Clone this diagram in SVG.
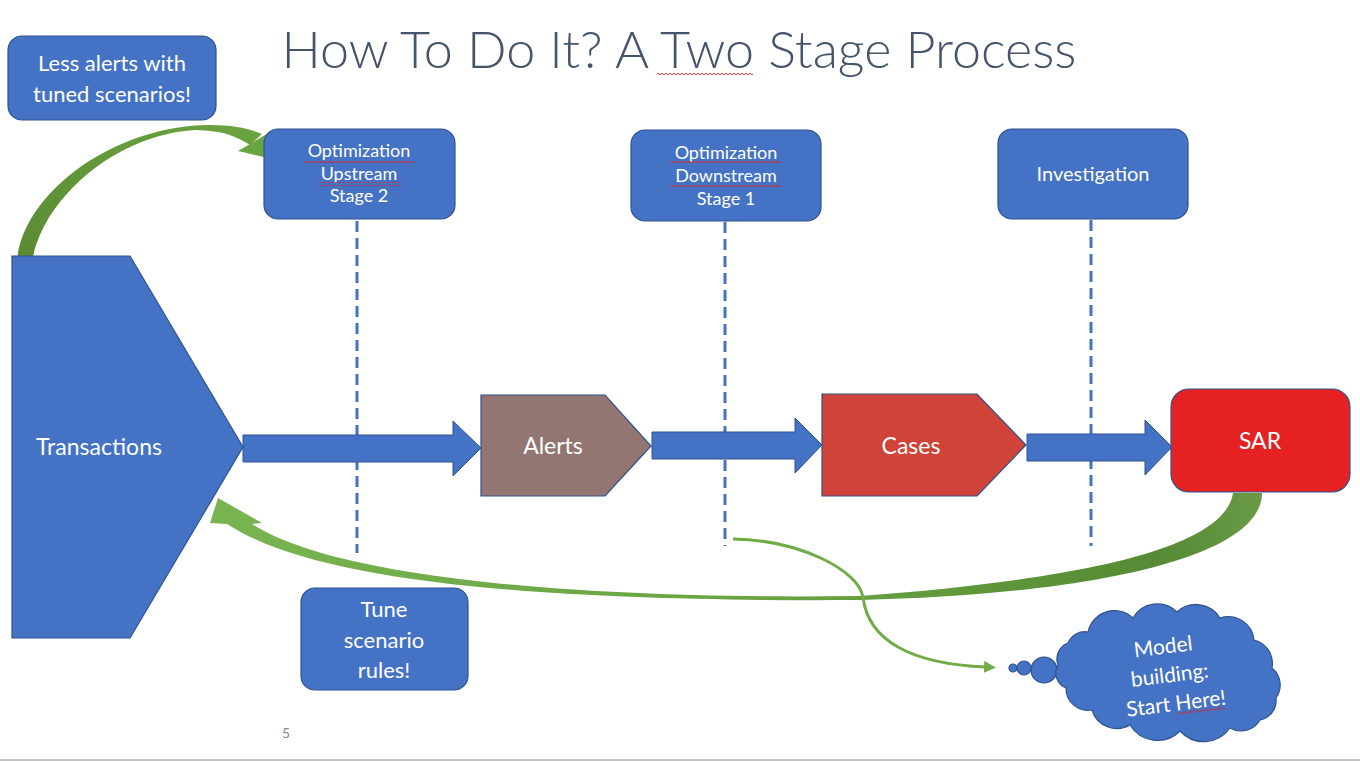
<svg xmlns="http://www.w3.org/2000/svg" width="1360" height="762" viewBox="0 0 1360 762">
<defs>
<style>
.box{fill:#4472C4;stroke:#2F528F;stroke-width:1.2}
.arr{fill:#4472C4;stroke:#2F528F;stroke-width:1}
.t{font-family:Lato,"Liberation Sans",sans-serif;fill:#FFFFFF;text-anchor:middle}
.dash{stroke:#4472C4;stroke-width:3;stroke-dasharray:11 6;fill:none}
</style>
<pattern id="sq" width="4" height="4" patternUnits="userSpaceOnUse">
<path d="M0,3 L2,1 L4,3" stroke="#E02020" stroke-width="0.9" fill="none"/>
</pattern>
<linearGradient id="gTop" x1="0" y1="1" x2="1" y2="0">
<stop offset="0" stop-color="#5A8A34"/>
<stop offset="1" stop-color="#6AA43F"/>
</linearGradient>
<linearGradient id="gBig" gradientUnits="userSpaceOnUse" x1="210" y1="0" x2="1262" y2="0">
<stop offset="0" stop-color="#78B450"/>
<stop offset="0.6" stop-color="#66A040"/>
<stop offset="0.9" stop-color="#568A34"/>
<stop offset="1" stop-color="#6A9A48"/>
</linearGradient>
<marker id="gh" markerWidth="12" markerHeight="12" refX="2" refY="6" orient="auto" markerUnits="userSpaceOnUse">
<path d="M0,0 L12,6 L0,12 Z" fill="#70AD47"/>
</marker>
</defs>
<rect width="1360" height="762" fill="#FFFFFF"/>

<g id="title">
<text x="679" y="68" font-family="Lato,'Liberation Sans',sans-serif" font-weight="300" font-size="52" fill="#44546A" text-anchor="middle" textLength="795" lengthAdjust="spacingAndGlyphs">How To Do It? A Two Stage Process</text>
<rect x="657" y="71" width="96" height="4" fill="url(#sq)"/>
</g>

<g id="connectors">
<line class="dash" x1="357" y1="221" x2="357" y2="553"/>
<line class="dash" x1="725" y1="222" x2="725" y2="546"/>
<line class="dash" x1="1091" y1="220" x2="1091" y2="546"/>
<polygon class="arr" points="243,435 453,435 453,421 481,448 453,476 453,462 243,462"/>
<polygon class="arr" points="652,432 795,432 795,418 822,445 795,473 795,459 652,459"/>
<polygon class="arr" points="1027,434 1145,434 1145,420 1172,447 1145,475 1145,461 1027,461"/>
<path d="M17,263 C20,200 100,135 190,126 C225,123 248,128 262,134 L250,145 C235,136 225,131 195,130 C115,135 45,198 33,257 Z" fill="url(#gTop)"/>
<polygon points="238,151 272,131 268,158" fill="#6AA43F"/>
<path d="M1233,493 C1225,545 1100,578 860,596 C560,600 330,575 252,524 L262,523 L218,498 L210,523 L227,524 C320,585 560,602 860,600 C1080,595 1262,560 1262,493 Z" fill="url(#gBig)"/>
<path d="M733,539 C800,540 858,570 863,597 C868,640 910,664 986,667" fill="none" stroke="#70AD47" stroke-width="3" marker-end="url(#gh)"/>
</g>

<g id="note-less-alerts">
<rect class="box" x="8" y="36" width="208" height="84" rx="14"/>
<text class="t" x="112" y="71" font-size="22">Less alerts with</text>
<text class="t" x="112" y="102" font-size="22">tuned scenarios!</text>
</g>

<g id="opt-upstream">
<rect class="box" x="264" y="129" width="191" height="90" rx="14"/>
<text class="t" x="359" y="157" font-size="18">Optimization</text>
<text class="t" x="359" y="180" font-size="18">Upstream</text>
<text class="t" x="359" y="202" font-size="18">Stage 2</text>
<rect x="304" y="159" width="110" height="4" fill="url(#sq)"/>
<rect x="318" y="182" width="84" height="4" fill="url(#sq)"/>
</g>

<g id="opt-downstream">
<rect class="box" x="631" y="130" width="190" height="91" rx="14"/>
<text class="t" x="726" y="159" font-size="18">Optimization</text>
<text class="t" x="726" y="182" font-size="18">Downstream</text>
<text class="t" x="726" y="205" font-size="18">Stage 1</text>
<rect x="670" y="161" width="111" height="4" fill="url(#sq)"/>
<rect x="670" y="184" width="111" height="4" fill="url(#sq)"/>
</g>

<g id="investigation">
<rect class="box" x="998" y="129" width="190" height="90" rx="14"/>
<text class="t" x="1093" y="181" font-size="20">Investigation</text>
</g>

<g id="transactions">
<polygon class="box" points="12,256 130,256 243,447 130,638 12,638"/>
<text class="t" x="99" y="455" font-size="23">Transactions</text>
</g>

<g id="alerts">
<polygon points="481,395 605,395 651,446 605,496 481,496" fill="#937672" stroke="#2F528F" stroke-width="1.2"/>
<text class="t" x="553" y="454" font-size="23">Alerts</text>
</g>

<g id="cases">
<polygon points="822,394 977,394 1026,445 977,496 822,496" fill="#CF4338" stroke="#2F528F" stroke-width="1.2"/>
<text class="t" x="911" y="454" font-size="23">Cases</text>
</g>

<g id="sar">
<rect x="1171" y="389" width="179" height="103" rx="18" fill="#E52121" stroke="#2F528F" stroke-width="1.2"/>
<text class="t" x="1260" y="449" font-size="23">SAR</text>
</g>

<g id="tune">
<rect class="box" x="301" y="588" width="167" height="102" rx="14"/>
<text class="t" x="384" y="617" font-size="22">Tune</text>
<text class="t" x="384" y="648" font-size="22">scenario</text>
<text class="t" x="384" y="678" font-size="22">rules!</text>
</g>

<g id="cloud">
<circle cx="1013" cy="668" r="4" class="box"/>
<circle cx="1024" cy="668" r="7" class="box"/>
<circle cx="1044" cy="670" r="13" class="box"/>
<path class="box" d="M1088,632 A27,27 0 0 1 1133,618 A28,28 0 0 1 1177,612 A28,28 0 0 1 1220,618 A26,26 0 0 1 1254,640 A24,24 0 0 1 1272,668 A22,22 0 0 1 1276,698 A20,20 0 0 1 1260,720 A22,22 0 0 1 1230,728 A32,32 0 0 1 1180,731 A32,32 0 0 1 1130,725 A26,26 0 0 1 1092,710 A22,22 0 0 1 1066,688 A16,16 0 0 1 1058,665 A17,17 0 0 1 1068,643 A18,18 0 0 1 1088,632 Z"/>
<g transform="rotate(-7 1172 678)">
<text class="t" x="1167" y="653" font-size="21">Model</text>
<text class="t" x="1170" y="682" font-size="21">building:</text>
<text class="t" x="1173" y="711" font-size="21">Start Here!</text>
<rect x="1173" y="713" width="48" height="4" fill="url(#sq)"/>
</g>
</g>

<g id="footer">
<text x="286" y="738" font-family="Lato,'Liberation Sans',sans-serif" font-size="14" fill="#898989" text-anchor="middle">5</text>
<line x1="0" y1="760" x2="1360" y2="760" stroke="#C8C8C8" stroke-width="2"/>
</g>
</svg>
